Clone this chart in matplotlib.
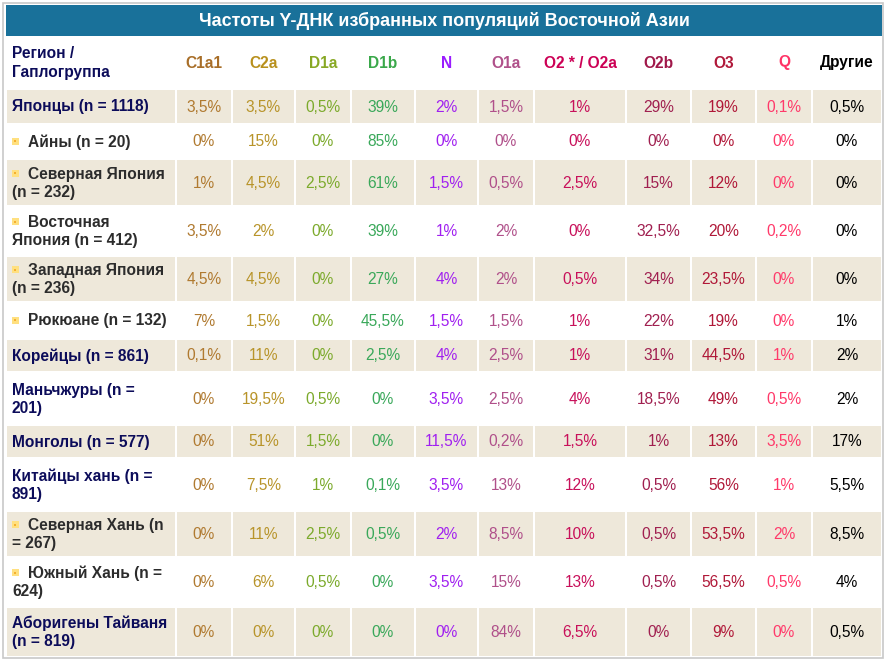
import matplotlib
matplotlib.use("Agg")
import matplotlib.pyplot as plt
from matplotlib.patches import Rectangle

plt.rcParams['font.family'] = ['Liberation Sans', 'DejaVu Sans']

title = "Частоты Y-ДНК избранных популяций Восточной Азии"
corner = "Регион /\nГаплогруппа"
groups = ["C1a1", "C2a", "D1a", "D1b", "N", "O1a", "O2 * / O2a", "O2b", "O3", "Q", "Другие"]

regions = ["Японцы (n = 1118)", "Айны (n = 20)", "Северная Япония\n(n = 232)",
           "Восточная\nЯпония (n = 412)", "Западная Япония\n(n = 236)",
           "Рюкюане (n = 132)", "Корейцы (n = 861)", "Маньчжуры (n =\n201)",
           "Монголы (n = 577)", "Китайцы хань (n =\n891)", "Северная Хань (n\n= 267)",
           "Южный Хань (n =\n624)", "Аборигены Тайваня\n(n = 819)"]
subgroup = [False, True, True, True, True, True, False, False, False, False, True, True, False]

c1a1 = [3.5, 0, 1, 3.5, 4.5, 7, 0.1, 0, 0, 0, 0, 0, 0]
c2a = [3.5, 15, 4.5, 2, 4.5, 1.5, 11, 19.5, 51, 7.5, 11, 6, 0]
d1a = [0.5, 0, 2.5, 0, 0, 0, 0, 0.5, 1.5, 1, 2.5, 0.5, 0]
d1b = [39, 85, 61, 39, 27, 45.5, 2.5, 0, 0, 0.1, 0.5, 0, 0]
n_hg = [2, 0, 1.5, 1, 4, 1.5, 4, 3.5, 11.5, 3.5, 2, 3.5, 0]
o1a = [1.5, 0, 0.5, 2, 2, 1.5, 2.5, 2.5, 0.2, 13, 8.5, 15, 84]
o2 = [1, 0, 2.5, 0, 0.5, 1, 1, 4, 1.5, 12, 10, 13, 6.5]
o2b = [29, 0, 15, 32.5, 34, 22, 31, 18.5, 1, 0.5, 0.5, 0.5, 0]
o3 = [19, 0, 12, 20, 23.5, 19, 44.5, 49, 13, 56, 53.5, 56.5, 9]
q = [0.1, 0, 0, 0.2, 0, 0, 1, 0.5, 3.5, 1, 2, 0.5, 0]
other = [0.5, 0, 0, 0, 0, 1, 2, 2, 17, 5.5, 8.5, 4, 0.5]
columns = [c1a1, c2a, d1a, d1b, n_hg, o1a, o2, o2b, o3, q, other]

head_colors = ["#a86e28", "#b8901c", "#88a824", "#3aa84a", "#9a1cff", "#b0508a",
               "#cc0055", "#a0184a", "#b0183a", "#ff3366", "#000000"]
val_colors = ["#b07a30", "#b8942a", "#7caa2c", "#3aa85a", "#a020f0", "#b0508a",
              "#c8105a", "#a02050", "#b01838", "#ff3a6a", "#000000"]

# layout in pixels
col_edges = [6, 176, 232, 295, 351, 415, 478, 534, 626, 691, 756, 812, 882]
row_edges = [37, 89, 124, 159, 206, 256, 302, 339, 372, 425, 458, 511, 557, 607, 657]
beige = "#eee8da"
navy = "#0c0c5a"
gray = "#2c2c2c"
fs = 11.2


def fmt(v):
    return ("%g" % v).replace(".", ",") + "%"


fig = plt.figure(figsize=(8.86, 6.61), dpi=100)
ax = fig.add_axes([0, 0, 1, 1])
ax.set_xlim(0, 886)
ax.set_ylim(661, 0)
ax.axis("off")

# outer border and title bar
ax.add_patch(Rectangle((3, 3), 880, 655, facecolor="white", edgecolor="#c8c8c8", lw=1.2))
ax.add_patch(Rectangle((6, 5), 876, 31, facecolor="#19719a", edgecolor="none"))
ax.text(444, 21, title, color="white", fontsize=13, fontweight="bold", ha="center", va="center")

# header row
hy = (row_edges[0] + row_edges[1]) / 2
ax.text(12, hy - 9, "Регион /", color=navy, fontsize=fs, fontweight="bold", va="center")
ax.text(12, hy + 9, "Гаплогруппа", color=navy, fontsize=fs, fontweight="bold", va="center")
for j, g in enumerate(groups):
    cx = (col_edges[j + 1] + col_edges[j + 2]) / 2
    ax.text(cx, hy, g, color=head_colors[j], fontsize=fs, fontweight="bold", ha="center", va="center")

for i, reg in enumerate(regions):
    y0, y1 = row_edges[i + 1], row_edges[i + 2]
    cy = (y0 + y1) / 2
    if i % 2 == 0:
        for j in range(len(col_edges) - 1):
            ax.add_patch(Rectangle((col_edges[j] + 1, y0 + 1), col_edges[j + 1] - col_edges[j] - 2,
                                   y1 - y0 - 2, facecolor=beige, edgecolor="none"))
    lines = reg.split("\n")
    color = gray if subgroup[i] else navy
    ys = [cy] if len(lines) == 1 else [cy - 9, cy + 9]
    for k, (ln, ly) in enumerate(zip(lines, ys)):
        x = 12
        if k == 0 and subgroup[i]:
            ax.add_patch(Rectangle((12, ly - 4), 7, 7, facecolor="#ffe080", edgecolor="none"))
            ax.add_patch(Rectangle((14.5, ly - 1.5), 2, 2, facecolor="#f5b030", edgecolor="none"))
            x = 28
        ax.text(x, ly + 0.5, ln, color=color, fontsize=fs, fontweight="bold", va="center")
    for j, col in enumerate(columns):
        cx = (col_edges[j + 1] + col_edges[j + 2]) / 2
        ax.text(cx, cy + 0.5, fmt(col[i]), color=val_colors[j], fontsize=fs, ha="center", va="center")

fig.savefig("out.png", dpi=100)
